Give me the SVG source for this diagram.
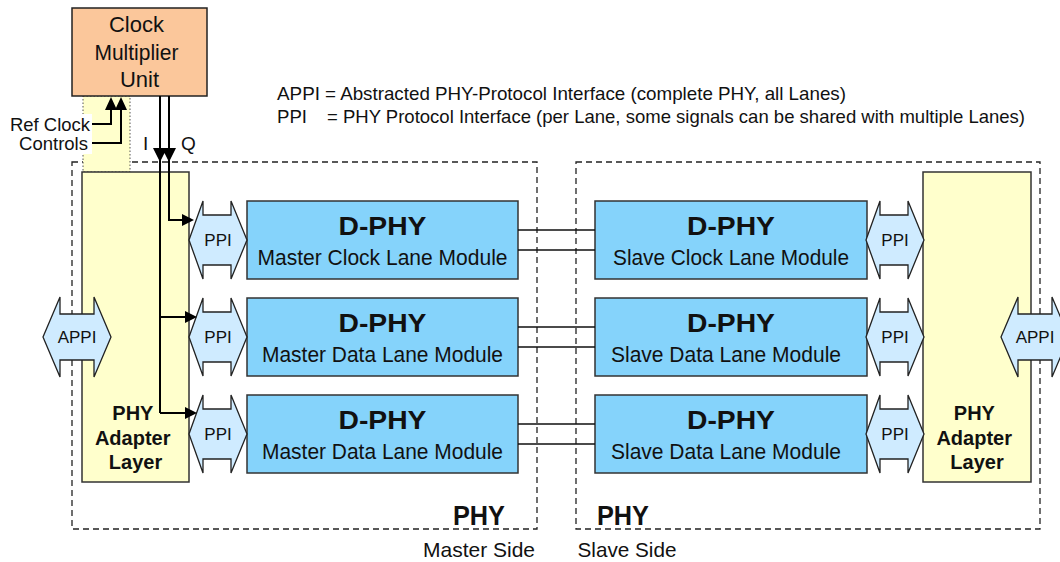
<svg xmlns="http://www.w3.org/2000/svg" width="1060" height="562" viewBox="0 0 1060 562">
  <defs>
    <style>
      .t { font-family: "Liberation Sans", Arial, sans-serif; fill: #111; }
      .b { font-weight: bold; }
      .dashed { fill: none; stroke: #222; stroke-width: 1.3; stroke-dasharray: 6 4; }
      .cmu { fill: #FBC79B; stroke: #222; stroke-width: 1.5; }
      .adapter { fill: #FFFFCC; stroke: #333; stroke-width: 1.5; }
      .lane { fill: #85D3FB; stroke: #333; stroke-width: 1.5; }
      .iface { fill: #CFEBFF; stroke: #222; stroke-width: 1.3; }
      .wire { fill: none; stroke: #111; stroke-width: 1.3; }
      .sig { fill: none; stroke: #000; stroke-width: 2; }
    </style>
    <!-- double-headed interface arrow, origin at left tip -->
    <path id="ppi" d="M0,0 L14,-39 L14,-25 L42,-25 L42,-39 L58,0 L42,39 L42,25 L14,25 L14,39 Z"/>
    <path id="appi" d="M0,0 L17,-40 L17,-23 L51,-23 L51,-40 L68,0 L51,40 L51,23 L17,23 L17,40 Z"/>
  </defs>

  <rect width="1060" height="562" fill="#fff"/>

  <!-- PHY boundaries -->
  <g id="master-side">
    <rect class="dashed" x="72" y="162" width="465" height="367"/>
    <text class="t b" x="479" y="525" font-size="27" text-anchor="middle" textLength="52" lengthAdjust="spacingAndGlyphs">PHY</text>
    <text class="t" x="479" y="557" font-size="21" text-anchor="middle" textLength="112" lengthAdjust="spacingAndGlyphs">Master Side</text>
  </g>
  <g id="slave-side">
    <rect class="dashed" x="576" y="162" width="464" height="367"/>
    <text class="t b" x="623" y="525" font-size="27" text-anchor="middle" textLength="52" lengthAdjust="spacingAndGlyphs">PHY</text>
    <text class="t" x="627" y="557" font-size="21" text-anchor="middle" textLength="99" lengthAdjust="spacingAndGlyphs">Slave Side</text>
  </g>

  <!-- Legend -->
  <g id="legend" font-size="18.5">
    <text class="t" x="277" y="100" textLength="43" lengthAdjust="spacingAndGlyphs">APPI</text>
    <text class="t" x="325" y="100" textLength="521" lengthAdjust="spacingAndGlyphs">= Abstracted PHY-Protocol Interface (complete PHY, all Lanes)</text>
    <text class="t" x="277" y="123" textLength="30" lengthAdjust="spacingAndGlyphs">PPI</text>
    <text class="t" x="327" y="123" textLength="698" lengthAdjust="spacingAndGlyphs">= PHY Protocol Interface (per Lane, some signals can be shared with multiple Lanes)</text>
  </g>

  <!-- Clock multiplier unit -->
  <g id="ref-area">
    <rect x="83" y="96" width="47" height="76" fill="#FFFFCC" stroke="#555" stroke-width="1" stroke-dasharray="1.5 2"/>
  </g>
  <g id="clock-multiplier">
    <rect class="cmu" x="72" y="8" width="135" height="88"/>
    <text class="t" font-size="22" text-anchor="middle">
      <tspan x="139.5" y="32">Clock</tspan>
      <tspan x="139.5" y="60" textLength="84" lengthAdjust="spacingAndGlyphs">Multiplier</tspan>
      <tspan x="139.5" y="87">Unit</tspan>
    </text>
  </g>

  <!-- Adapter layers -->
  <g id="adapter-master">
    <rect class="adapter" x="82" y="172" width="107" height="310"/>
    <text class="t b" font-size="20" text-anchor="middle">
      <tspan x="135.5" y="420">PHY</tspan>
      <tspan x="135.5" y="445">Adapter</tspan>
      <tspan x="135.5" y="469">Layer</tspan>
    </text>
  </g>
  <g id="adapter-slave">
    <rect class="adapter" x="923" y="172" width="108" height="310"/>
    <text class="t b" font-size="20" text-anchor="middle">
      <tspan x="977" y="420">PHY</tspan>
      <tspan x="977" y="445">Adapter</tspan>
      <tspan x="977" y="469">Layer</tspan>
    </text>
  </g>

  <!-- APPI interfaces -->
  <g id="appi-master">
    <use href="#appi" class="iface" x="43" y="337"/>
    <text class="t" x="77" y="343" font-size="17" text-anchor="middle">APPI</text>
  </g>
  <g id="appi-slave">
    <use href="#appi" class="iface" x="1001" y="337"/>
    <text class="t" x="1035" y="343" font-size="17" text-anchor="middle">APPI</text>
  </g>

  <!-- Lane modules -->
  <g id="master-clock-lane">
    <rect class="lane" x="247" y="201" width="271" height="78"/>
    <text class="t b" x="382.5" y="235" font-size="26" text-anchor="middle" textLength="88" lengthAdjust="spacingAndGlyphs">D-PHY</text>
    <text class="t" x="382.5" y="265" font-size="22" text-anchor="middle" textLength="250" lengthAdjust="spacingAndGlyphs">Master Clock Lane Module</text>
  </g>
  <g id="master-data-lane-1">
    <rect class="lane" x="247" y="298" width="271" height="78"/>
    <text class="t b" x="382.5" y="332" font-size="26" text-anchor="middle" textLength="88" lengthAdjust="spacingAndGlyphs">D-PHY</text>
    <text class="t" x="382.5" y="362" font-size="22" text-anchor="middle" textLength="241" lengthAdjust="spacingAndGlyphs">Master Data Lane Module</text>
  </g>
  <g id="master-data-lane-2">
    <rect class="lane" x="247" y="395" width="271" height="78"/>
    <text class="t b" x="382.5" y="429" font-size="26" text-anchor="middle" textLength="88" lengthAdjust="spacingAndGlyphs">D-PHY</text>
    <text class="t" x="382.5" y="459" font-size="22" text-anchor="middle" textLength="241" lengthAdjust="spacingAndGlyphs">Master Data Lane Module</text>
  </g>
  <g id="slave-clock-lane">
    <rect class="lane" x="595" y="201" width="272" height="78"/>
    <text class="t b" x="731" y="235" font-size="26" text-anchor="middle" textLength="88" lengthAdjust="spacingAndGlyphs">D-PHY</text>
    <text class="t" x="731" y="265" font-size="22" text-anchor="middle" textLength="236" lengthAdjust="spacingAndGlyphs">Slave Clock Lane Module</text>
  </g>
  <g id="slave-data-lane-1">
    <rect class="lane" x="595" y="298" width="272" height="78"/>
    <text class="t b" x="731" y="332" font-size="26" text-anchor="middle" textLength="88" lengthAdjust="spacingAndGlyphs">D-PHY</text>
    <text class="t" x="726" y="362" font-size="22" text-anchor="middle" textLength="230" lengthAdjust="spacingAndGlyphs">Slave Data Lane Module</text>
  </g>
  <g id="slave-data-lane-2">
    <rect class="lane" x="595" y="395" width="272" height="78"/>
    <text class="t b" x="731" y="429" font-size="26" text-anchor="middle" textLength="88" lengthAdjust="spacingAndGlyphs">D-PHY</text>
    <text class="t" x="726" y="459" font-size="22" text-anchor="middle" textLength="230" lengthAdjust="spacingAndGlyphs">Slave Data Lane Module</text>
  </g>

  <!-- PPI interfaces -->
  <g id="ppi-master-clock"><use href="#ppi" class="iface" x="189" y="240"/><text class="t" x="218" y="246" font-size="17" text-anchor="middle">PPI</text></g>
  <g id="ppi-master-data-1"><use href="#ppi" class="iface" x="189" y="337"/><text class="t" x="218" y="343" font-size="17" text-anchor="middle">PPI</text></g>
  <g id="ppi-master-data-2"><use href="#ppi" class="iface" x="189" y="434"/><text class="t" x="218" y="440" font-size="17" text-anchor="middle">PPI</text></g>
  <g id="ppi-slave-clock"><use href="#ppi" class="iface" x="866" y="240"/><text class="t" x="895" y="246" font-size="17" text-anchor="middle">PPI</text></g>
  <g id="ppi-slave-data-1"><use href="#ppi" class="iface" x="866" y="337"/><text class="t" x="895" y="343" font-size="17" text-anchor="middle">PPI</text></g>
  <g id="ppi-slave-data-2"><use href="#ppi" class="iface" x="866" y="434"/><text class="t" x="895" y="440" font-size="17" text-anchor="middle">PPI</text></g>

  <!-- Connectors -->
  <g id="connectors">
    <!-- differential lane wires -->
    <path class="wire" d="M518,230 H595 M518,250 H595"/>
    <path class="wire" d="M518,327 H595 M518,347 H595"/>
    <path class="wire" d="M518,424 H595 M518,444 H595"/>

    <!-- reference clock and control inputs -->
    <path class="sig" d="M92,124 H111 V108"/>
    <path class="sig" d="M92,143 H121 V108"/>
    <path d="M105,110 L111,97 L117,110 Z M115,110 L121,97 L127,110 Z" fill="#000"/>

    <!-- I / Q clock outputs -->
    <path class="sig" d="M160,96 V413"/>
    <path class="sig" d="M169,96 V220 H184"/>
    <path d="M153,148 L160,162 L167,148 Z M162,148 L169,162 L176,148 Z" fill="#000"/>
    <path class="sig" d="M160,317 H188"/>
    <path class="sig" d="M160,413 H188"/>
    <path d="M182,214 L194,220 L182,226 Z" fill="#000"/>
    <path d="M185,311 L197,317 L185,323 Z" fill="#000"/>
    <path d="M185,407 L197,413 L185,419 Z" fill="#000"/>
  </g>

  <!-- signal labels -->
  <g id="signal-labels">
    <rect x="8" y="114" width="84" height="40" fill="#fff"/>
    <text class="t" x="90" y="131" font-size="19" text-anchor="end" textLength="80" lengthAdjust="spacingAndGlyphs">Ref Clock</text>
    <text class="t" x="88" y="150" font-size="19" text-anchor="end" textLength="69" lengthAdjust="spacingAndGlyphs">Controls</text>
    <text class="t" x="143" y="150" font-size="19">I</text>
    <text class="t" x="181" y="150" font-size="19">Q</text>
  </g>
</svg>
